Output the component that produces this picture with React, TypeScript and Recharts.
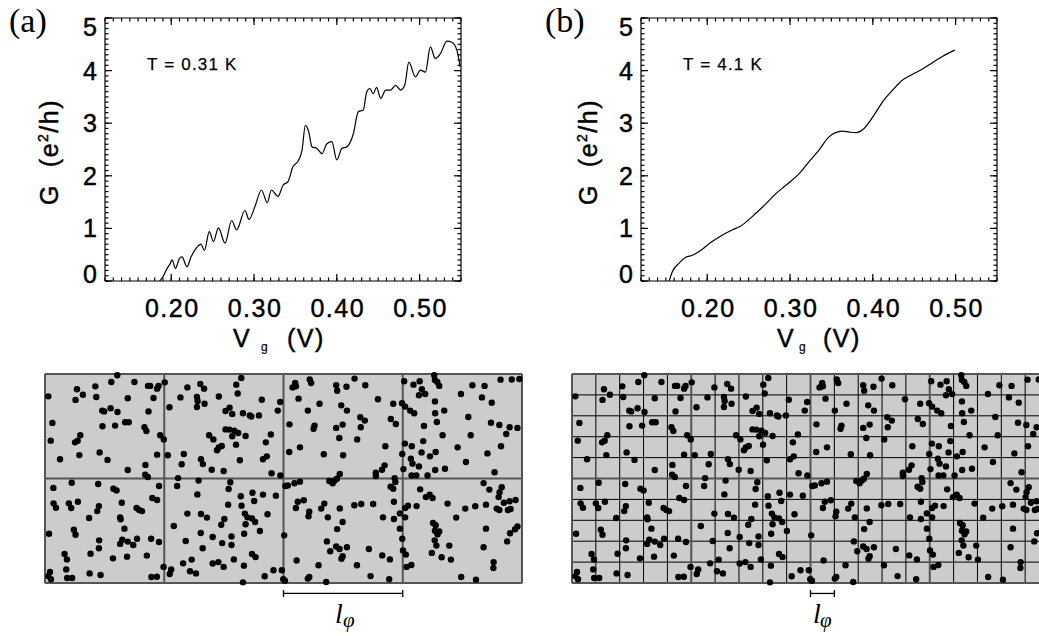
import { LineChart, Line, XAxis, YAxis, ScatterChart, Scatter, ReferenceLine, CartesianGrid } from "recharts";

// panel (a): T = 0.31 K
const VG_A = [
  0.186, 0.19, 0.194, 0.199, 0.201, 0.205, 0.21, 0.213, 0.219, 0.224, 0.23, 0.236, 0.24, 0.246, 0.251,
  0.257, 0.265, 0.273, 0.279, 0.289, 0.294, 0.301, 0.309, 0.316, 0.321, 0.329, 0.335, 0.341, 0.347,
  0.354, 0.358, 0.362, 0.366, 0.37, 0.376, 0.382, 0.388, 0.394, 0.4, 0.406, 0.412, 0.42, 0.426, 0.432,
  0.436, 0.44, 0.444, 0.448, 0.453, 0.459, 0.465, 0.471, 0.477, 0.482, 0.487, 0.495, 0.501, 0.507,
  0.513, 0.519, 0.525, 0.533, 0.539, 0.545, 0.549,
];
const G_A = [
  0, 0.08, 0.21, 0.34, 0.4, 0.24, 0.43, 0.46, 0.27, 0.46, 0.62, 0.7, 0.58, 0.94, 0.75,
  1.01, 0.72, 1.15, 0.97, 1.34, 1.17, 1.41, 1.73, 1.49, 1.73, 1.61, 1.82, 1.89, 2.17,
  2.3, 2.49, 2.96, 2.84, 2.55, 2.52, 2.42, 2.61, 2.65, 2.3, 2.52, 2.55, 2.8, 3.22, 3.25,
  3.59, 3.66, 3.56, 3.68, 3.47, 3.63, 3.63, 3.72, 3.63, 3.72, 4.16, 3.88, 4.01, 3.97,
  4.45, 4.23, 4.32, 4.56, 4.54, 4.39, 4.07,
];

// panel (b): T = 4.1 K
const VG_B = [
  0.154, 0.158, 0.166, 0.174, 0.182, 0.192, 0.2, 0.206, 0.218, 0.23, 0.24, 0.254, 0.271, 0.283, 0.295,
  0.311, 0.323, 0.335, 0.347, 0.355, 0.363, 0.372, 0.38, 0.388, 0.4, 0.412, 0.424, 0.436, 0.448, 0.46,
  0.472, 0.484, 0.499,
];
const G_B = [
  0, 0.18, 0.34, 0.45, 0.49, 0.58, 0.68, 0.75, 0.87, 0.97, 1.04, 1.22, 1.47, 1.66, 1.82,
  2.04, 2.27, 2.49, 2.74, 2.82, 2.85, 2.83, 2.82, 2.88, 3.12, 3.41, 3.63, 3.82, 3.93, 4.03,
  4.15, 4.27, 4.39,
];

const X_TICKS = [0.2, 0.3, 0.4, 0.5];
const X_TICK_LABELS = ["0.20", "0.30", "0.40", "0.50"];
const Y_TICKS = [0, 1, 2, 3, 4, 5];
const X_MINOR = Array.from({ length: 44 }, (_, i) => (12 + i) / 100);
const Y_MINOR = Array.from({ length: 51 }, (_, i) => i / 10);

// impurity positions, in units of the fine grid (20 x 10), v measured from the top
const DOT_U = [
  3.03, 1.34, 1.59, 2.11, 2.78, 3.75, 4.32, 4.41, 4.7, 4.76, 5.02, 5.97, 6.51, 6.67, 8.02, 8.23, 8.08, 0.14,
  1.28, 2.15, 2.4, 2.48, 2.75, 3.04, 3.47, 4.34, 4.55, 5.22, 5.68, 6.37, 6.4, 6.37, 6.69, 7.29, 7.57, 7.74, 7.85, 8.3, 8.59, 8.65, 8.97, 9.09,
  0.31, 2.41, 2.94, 3.36, 3.51, 4.17, 4.25, 4.83, 4.98, 6.88, 7.06, 7.57, 7.73, 7.94, 7.85, 8.1, 8.41, 9.47,
  0.24, 1.26, 1.37, 1.48, 1.44, 2.29, 2.62, 4.7, 5.15, 5.82, 7.21, 7.29, 7.41, 8.01, 9.26, 9.14, 9.3,
  0.63, 3.47, 4.21, 4.2, 4.31, 5.73, 5.58, 6.54, 6.62, 6.99, 7.49, 8.17, 9.5,
  0.35, 1.12, 2.23, 2.87, 3.0, 4.78, 4.5, 4.7, 5.54, 6.44, 6.39, 7.77, 7.7, 8.21, 8.7, 9.14,
  0.36, 0.46, 1.0, 1.1, 1.38, 2.26, 2.19, 3.22, 3.84, 3.95, 4.07, 3.15, 3.17, 1.85, 5.97, 6.54, 6.79, 7.52, 7.68, 8.24, 8.77, 8.38, 8.49, 8.68, 9.33,
  0.17, 1.21, 1.28, 3.33, 5.4, 6.53, 7.39, 8.41, 8.81, 8.35, 9.01,
  2.27, 2.26, 3.15, 3.24, 3.47, 3.7, 3.86, 4.45, 4.78, 5.9, 7.03, 6.61, 7.43, 7.82, 7.82, 0.82, 0.92, 1.91, 2.85, 3.44, 4.27, 8.68, 8.83,
  0.14, 0.25, 0.21, 0.89, 0.93, 1.14, 1.87, 2.33, 4.46, 4.69, 4.97, 5.23, 5.29, 5.79, 6.08, 6.15, 6.33, 7.03, 7.27, 7.49, 7.92, 8.34, 9.21, 9.58, 8.3,
  10.49, 10.38, 10.52, 11.1, 11.16, 12.21, 12.25, 12.64, 12.98, 13.43, 15.06, 15.45, 15.71, 15.8, 15.94, 15.68, 16.32, 16.35, 16.45, 16.53, 17.92, 18.43, 19.1, 19.57, 19.89,
  9.86, 9.76, 10.63, 11.02, 11.51, 12.42, 12.66, 13.96, 14.6, 14.97, 15.1, 15.31, 15.48, 16.35, 16.36, 16.74, 17.44, 18.32, 18.73,
  10.25, 11.26, 11.3, 12.21, 12.48, 12.34, 13.22, 13.41, 13.24, 14.5, 14.71, 15.89, 16.43, 16.67, 17.75, 17.85, 18.7, 19.05, 19.48, 19.34, 19.81,
  10.24, 10.69, 11.69, 12.5, 13.09, 14.27, 14.98, 15.09, 15.38, 15.34, 15.79, 15.86, 16.14, 16.38, 17.3, 18.55, 19.12,
  9.87, 12.36, 13.87, 13.87, 14.13, 14.24, 15.03, 15.41, 15.68, 15.37, 15.57, 16.04, 16.36, 16.77, 17.65, 18.85,
  10.08, 10.18, 10.46, 10.69, 11.92, 12.06, 12.24, 12.15, 14.66, 14.69, 14.49, 14.6, 15.73, 15.97, 16.13, 16.25, 18.39, 18.63, 19.06, 19.15, 19.02,
  9.68, 10.6, 10.85, 10.52, 11.08, 11.05, 11.58, 11.71, 11.86, 12.36, 12.97, 13.26, 13.76, 14.63, 15.1, 15.22, 15.58, 14.17, 14.63, 14.88, 15.1, 16.88, 17.24, 17.62, 18.04, 18.49, 18.94, 19.05, 19.24, 19.41, 19.52, 19.48, 19.73,
  10.03, 12.25, 12.48, 14.88, 14.98, 16.27, 16.38, 16.35, 16.53, 16.46, 16.34, 18.49, 19.5, 19.38, 19.81, 19.71,
  11.82, 11.96, 12.21, 12.35, 12.66, 12.48, 12.43, 13.58, 14.14, 14.46, 15.01, 15.13, 16.41, 16.22, 16.63, 16.95, 17.02, 18.39, 18.81,
  9.93, 9.99, 10.06, 10.55, 11.02, 11.08, 11.47, 11.79, 13.08, 13.65, 14.43, 15.16, 15.36, 17.45, 18.07, 18.8,
];
const DOT_V = [
  0.06, 0.73, 0.99, 0.59, 0.38, 0.38, 0.57, 0.57, 0.7, 0.57, 0.4, 0.64, 0.48, 0.7, 0.51, 0.19, 0.93, 1.07,
  1.24, 1.1, 1.75, 1.79, 1.64, 1.82, 1.16, 1.79, 1.15, 1.59, 1.12, 1.1, 1.29, 1.58, 1.42, 1.08, 1.77, 1.61, 1.91, 1.88, 1.98, 2.03, 1.98, 1.23,
  2.34, 2.5, 2.47, 2.31, 2.31, 2.55, 2.73, 2.93, 3.13, 2.93, 3.13, 2.65, 2.66, 2.71, 2.98, 2.82, 2.97, 2.89,
  3.19, 3.27, 3.19, 2.93, 3.88, 3.75, 4.11, 3.86, 3.89, 3.83, 3.65, 3.52, 3.44, 3.38, 3.27, 4.08, 3.94,
  4.08, 4.59, 4.35, 4.82, 4.93, 4.32, 4.98, 4.08, 4.31, 4.58, 4.64, 4.13, 4.75,
  5.45, 5.2, 5.26, 5.49, 5.57, 5.36, 5.93, 6.03, 5.36, 5.1, 5.76, 5.18, 5.5, 5.85, 5.68, 5.77,
  6.19, 6.4, 6.19, 6.41, 6.11, 6.32, 6.56, 6.16, 6.41, 6.51, 6.56, 6.86, 6.95, 6.89, 6.68, 6.7, 6.87, 6.94, 6.25, 6.3, 6.08, 6.68, 6.86, 6.91, 6.71,
  7.64, 7.45, 7.69, 7.4, 7.27, 7.61, 7.21, 7.19, 7.08, 7.64, 7.51,
  7.96, 8.34, 8.13, 7.93, 8.02, 8.18, 7.88, 7.88, 8.04, 7.99, 7.8, 8.34, 8.09, 7.77, 8.18, 8.61, 8.87, 8.6, 8.82, 8.74, 8.69, 8.61, 8.76,
  9.67, 9.82, 9.47, 9.35, 9.76, 9.76, 9.54, 9.62, 9.71, 9.7, 9.23, 9.57, 9.35, 9.06, 9.44, 8.88, 9.54, 9.07, 9.0, 9.23, 8.87, 9.17, 9.68, 9.39, 9.97,
  0.43, 0.64, 0.59, 0.26, 0.43, 0.54, 0.8, 0.61, 0.22, 0.54, 0.35, 0.51, 0.35, 0.73, 0.96, 1.02, 0.06, 0.29, 0.38, 0.57, 0.54, 0.57, 0.27, 0.26, 0.24,
  1.34, 1.75, 1.18, 1.75, 1.42, 1.5, 1.75, 1.21, 1.42, 1.4, 1.56, 1.75, 1.88, 1.31, 1.88, 1.75, 0.96, 1.12, 1.37,
  2.41, 2.62, 2.47, 2.58, 2.42, 3.06, 2.07, 2.23, 2.55, 2.15, 2.39, 2.49, 2.3, 2.93, 2.06, 2.93, 2.33, 2.44, 2.55, 2.87, 2.58,
  3.73, 3.51, 3.84, 3.89, 3.13, 3.46, 3.83, 3.33, 3.46, 4.05, 3.75, 3.21, 3.94, 3.73, 3.51, 3.8, 3.46,
  4.86, 4.78, 4.72, 4.88, 4.58, 4.37, 4.55, 4.29, 4.42, 4.86, 4.85, 4.86, 4.59, 4.53, 4.21, 4.7,
  5.36, 5.33, 5.23, 5.15, 5.12, 5.23, 5.01, 5.09, 4.98, 5.17, 5.39, 5.49, 5.52, 5.89, 5.77, 5.93, 5.22, 5.53, 5.66, 5.42, 5.89,
  5.82, 6.11, 6.04, 6.41, 6.59, 6.81, 6.44, 6.2, 6.86, 6.43, 6.28, 6.22, 6.22, 6.11, 6.41, 6.3, 6.32, 6.86, 6.94, 6.67, 6.86, 6.2, 6.87, 6.44, 6.33, 6.25, 6.44, 6.51, 6.16, 6.51, 6.46, 6.09, 6.03,
  7.72, 7.42, 7.08, 7.4, 7.88, 7.13, 7.24, 7.5, 7.53, 7.67, 7.96, 7.4, 7.62, 8.01, 7.3, 7.43,
  8.01, 8.48, 8.25, 8.37, 8.29, 8.72, 8.84, 8.37, 8.68, 8.87, 8.44, 8.64, 8.21, 8.56, 8.77, 8.21, 8.88, 8.29, 9.0,
  9.39, 9.82, 9.89, 8.92, 9.79, 9.71, 9.15, 9.95, 9.15, 9.67, 9.82, 9.23, 9.14, 9.71, 9.84, 9.28,
];

const COARSE_U = [5, 10, 15];
const COARSE_V = [5];
const FINE_U = [1, 2, 3, 4, 6, 7, 8, 9, 11, 12, 13, 14, 16, 17, 18, 19];
const FINE_V = [1, 2, 3, 4, 6, 7, 8, 9];

const SANS = '"Liberation Sans", Arial, Helvetica, sans-serif';
const SERIF = '"Liberation Serif", "Times New Roman", serif';

const DOTS = DOT_U.map((u, i) => ({ u, v: DOT_V[i] }));

const majorX = (v: number) => X_TICKS.findIndex((t) => Math.abs(t - v) < 1e-6);
const majorY = (v: number) => Y_TICKS.some((t) => Math.abs(t - v) < 1e-6);

// heavier strokes to mimic the IDL vector font
const LABEL_STYLE = { fill: "#000", stroke: "#000", strokeWidth: 0.45 };
const TICK_LINE = { stroke: "#000", strokeWidth: 1.2 };
const AXIS_LINE = { stroke: "#000", strokeWidth: 1.2 };

// built-in tick lines give the short (minor) ticks; these add the long major ticks and labels
function BottomTick(props: any) {
  const { x, y, payload } = props;
  const idx = majorX(payload.value);
  if (idx < 0) return null;
  return (
    <g>
      <path d={`M${x},${y}V${y - 7}`} stroke="#000" strokeWidth={1.2} fill="none" />
      <text x={x + 1} y={y + 36} textAnchor="middle" fontSize={25} fontFamily={SANS} letterSpacing={1.5} {...LABEL_STYLE}>
        {X_TICK_LABELS[idx]}
      </text>
    </g>
  );
}

function TopTick(props: any) {
  const { x, y, payload } = props;
  if (majorX(payload.value) < 0) return null;
  return <path d={`M${x},${y}V${y + 7}`} stroke="#000" strokeWidth={1.2} fill="none" />;
}

function LeftTick(props: any) {
  const { x, y, payload } = props;
  const v = payload.value;
  if (!majorY(v)) return null;
  const shift = v === 5 ? 9 : v === 0 ? -7 : 0;
  return (
    <g>
      <path d={`M${x},${y}H${x + 7}`} stroke="#000" strokeWidth={1.2} fill="none" />
      <text x={x - 8} y={y + shift} dy="0.36em" textAnchor="end" fontSize={25} fontFamily={SANS} {...LABEL_STYLE}>
        {v}
      </text>
    </g>
  );
}

function RightTick(props: any) {
  const { x, y, payload } = props;
  if (!majorY(payload.value)) return null;
  return <path d={`M${x - 7},${y}H${x}`} stroke="#000" strokeWidth={1.2} fill="none" />;
}

function ConductanceChart({ vg, g, left, plotLeft }: { vg: number[]; g: number[]; left: number; plotLeft: number }) {
  const data = vg.map((v, i) => ({ vg: v, g: g[i] }));
  const xCommon = {
    type: "number" as const,
    dataKey: "vg",
    domain: [0.12, 0.55] as [number, number],
    allowDataOverflow: true,
    ticks: X_MINOR,
    interval: 0 as const,
    tickSize: -3.5,
    tickMargin: 3.5,
    tickLine: TICK_LINE,
    axisLine: AXIS_LINE,
  };
  const yCommon = {
    type: "number" as const,
    domain: [0, 5] as [number, number],
    allowDataOverflow: true,
    ticks: Y_MINOR,
    interval: 0 as const,
    tickSize: -3.5,
    tickMargin: 3.5,
    tickLine: TICK_LINE,
    axisLine: AXIS_LINE,
  };
  return (
    <div style={{ position: "absolute", left, top: 0 }}>
      <LineChart
        width={520}
        height={360}
        data={data}
        margin={{ top: 17, right: 520 - plotLeft - 356 - 1, bottom: 39, left: plotLeft - 60 }}
      >
        <XAxis {...xCommon} tick={<BottomTick />} height={40} />
        <XAxis {...xCommon} xAxisId="top" orientation="top" tick={<TopTick />} height={1} />
        <YAxis {...yCommon} tick={<LeftTick />} width={60} />
        <YAxis {...yCommon} yAxisId="right" orientation="right" tick={<RightTick />} width={1} />
        <Line type="monotone" dataKey="g" stroke="#000" strokeWidth={1.2} dot={false} isAnimationActive={false} />
      </LineChart>
    </div>
  );
}

const Dot = (p: any) => <circle cx={p.cx} cy={p.cy} r={3.2} fill="#000" />;

function DotPanel({ left, fine, bar }: { left: number; fine: boolean; bar: [number, number] }) {
  const lineFine = { stroke: "#000", strokeWidth: 1 };
  const lineCoarse = { stroke: "#555", strokeWidth: 2 };
  const barLine = { ifOverflow: "visible" as const, stroke: "#000", strokeWidth: 1.3 };
  return (
    <div style={{ position: "absolute", left, top: 369 }}>
      <ScatterChart width={487} height={259} margin={{ top: 5, right: 5, bottom: 45, left: 5 }}>
        <CartesianGrid fill="#cccccc" fillOpacity={1} horizontal={false} vertical={false} />
        <XAxis type="number" dataKey="u" domain={[0, 20]} hide />
        <YAxis type="number" dataKey="v" domain={[0, 10]} reversed hide />
        {fine && FINE_U.map((u) => <ReferenceLine key={"fu" + u} x={u} {...lineFine} />)}
        {fine && FINE_V.map((v) => <ReferenceLine key={"fv" + v} y={v} {...lineFine} />)}
        {COARSE_U.map((u) => <ReferenceLine key={"cu" + u} x={u} {...lineCoarse} />)}
        {COARSE_V.map((v) => <ReferenceLine key={"cv" + v} y={v} {...lineCoarse} />)}
        <ReferenceLine x={0} {...lineCoarse} />
        <ReferenceLine x={20} {...lineCoarse} />
        <ReferenceLine y={0} {...lineCoarse} />
        <ReferenceLine y={10} {...lineCoarse} />
        <Scatter data={DOTS} dataKey="v" shape={Dot} isAnimationActive={false} />
        <ReferenceLine segment={[{ x: bar[0], y: 10.5 }, { x: bar[1], y: 10.5 }]} {...barLine} />
        <ReferenceLine segment={[{ x: bar[0], y: 10.33 }, { x: bar[0], y: 10.67 }]} {...barLine} />
        <ReferenceLine segment={[{ x: bar[1], y: 10.33 }, { x: bar[1], y: 10.67 }]} {...barLine} />
      </ScatterChart>
    </div>
  );
}

export default function App() {
  return (
    <div
      style={{
        position: "fixed",
        left: 0,
        top: 0,
        width: 1039,
        height: 636,
        overflow: "hidden",
        background: "#fff",
      }}
    >
      <ConductanceChart vg={VG_A} g={G_A} left={0} plotLeft={105} />
      <ConductanceChart vg={VG_B} g={G_B} left={520} plotLeft={121} />
      <DotPanel left={40} fine={false} bar={[10, 15]} />
      <DotPanel left={567} fine bar={[10, 11]} />
      <svg width={1039} height={636} style={{ position: "absolute", left: 0, top: 0, pointerEvents: "none" }}>
        <text x={9} y={32} fontSize={34} fontFamily={SERIF}>(a)</text>
        <text x={545} y={32} fontSize={34} fontFamily={SERIF}>(b)</text>
        <text x={147} y={70} fontSize={17} fontFamily={SANS} letterSpacing={1.2} stroke="#000" strokeWidth={0.25}>T = 0.31 K</text>
        <text x={683} y={70} fontSize={17} fontFamily={SANS} letterSpacing={1.2} stroke="#000" strokeWidth={0.25}>T = 4.1 K</text>
        {[58, 597].map((bx) => (
          <text
            key={bx}
            transform={`translate(${bx},152) rotate(-90)`}
            textAnchor="middle"
            fontSize={25}
            fontFamily={SANS}
            letterSpacing={1.5}
            {...LABEL_STYLE}
          >
            {"G\u00a0\u00a0(e"}
            <tspan fontSize={14} dy={-10}>2</tspan>
            <tspan dy={10}>/h)</tspan>
          </text>
        ))}
        {[
          [233, 261, 287],
          [777, 799, 823],
        ].map(([vx, gx, px]) => (
          <g key={vx} fontFamily={SANS} fontSize={25} {...LABEL_STYLE}>
            <text x={vx} y={347}>V</text>
            <text x={gx} y={351} fontSize={12} strokeWidth={0.2}>g</text>
            <text x={px} y={347} letterSpacing={1.5}>(V)</text>
          </g>
        ))}
        {[
          [335, 343],
          [813, 820],
        ].map(([lx, px]) => (
          <g key={lx} fontFamily={SERIF} fontStyle="italic">
            <text x={lx} y={623} fontSize={28}>l</text>
            <text x={px} y={627} fontSize={21}>φ</text>
          </g>
        ))}
      </svg>
    </div>
  );
}
